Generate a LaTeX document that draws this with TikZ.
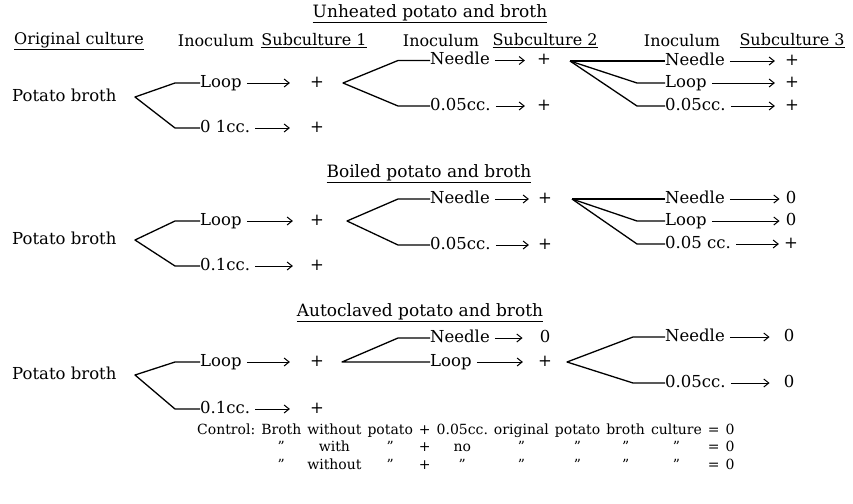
\documentclass[tikz,border=0pt]{standalone}
\usepackage{fontspec}
\setmainfont{DejaVu Serif}
\usetikzlibrary{arrows.meta}

\tikzset{
  lbl/.style={anchor=west, inner sep=0pt, text height=11pt, text depth=3pt, font=\fontsize{16.5}{18}\selectfont},
  res/.style={inner sep=0pt, text height=11pt, text depth=3pt, font=\fontsize{16.5}{18}\selectfont},
  hdr/.style={font=\fontsize{16}{18}\selectfont},
  ttl/.style={font=\fontsize{17}{19}\selectfont},
  branch/.style={line width=1.3pt, line join=round},
  arr/.style={line width=1pt, -{Straight Barb[length=5pt, width=8pt]}, shorten <=5pt, shorten >=#1},
  arr/.default=10pt
}

\begin{document}
\begin{tikzpicture}[x=1pt, y=-1pt]
  \useasboundingbox (0,0) rectangle (853,503);

  % Unheated potato and broth
  \node[ttl] (ttlA) at (430,14) {\underline{Unheated potato and broth}};
  \node[hdr] (hOrig) at (79,41) {\underline{Original culture}};
  \node[hdr] (hInoc1) at (216,41) {Inoculum};
  \node[hdr] (hSub1) at (314,41) {\underline{Subculture 1}};
  \node[hdr] (hInoc2) at (441,41) {Inoculum};
  \node[hdr] (hSub2) at (545,41) {\underline{Subculture 2}};
  \node[hdr] (hInoc3) at (682,41) {Inoculum};
  \node[hdr] (hSub3) at (792,41) {\underline{Subculture 3}};

  \node[lbl] (pbA) at (12,97) {Potato broth};
  \coordinate (vA1) at (135,97);
  \node[lbl] (loopA1) at (200,83) {Loop};
  \node[lbl] (ccA1) at (200,128) {0 1cc.};
  \node[res] (rloopA1) at (317,83) {+};
  \node[res] (rccA1) at (317,128) {+};
  \draw[branch] (loopA1.west) -- ++(-25,0) -- (vA1) -- ([xshift=-25pt]ccA1.west) -- (ccA1.west);
  \draw[arr=20pt] (loopA1) -- (rloopA1);
  \draw[arr=20pt] (ccA1) -- (rccA1);

  \coordinate (vA2) at (343,83);
  \node[lbl] (needleA2) at (430,60.5) {Needle};
  \node[lbl] (ccA2) at (430,106) {0.05cc.};
  \node[res] (rneedleA2) at (544,60.5) {+};
  \node[res] (rccA2) at (544,106) {+};
  \draw[branch] (needleA2.west) -- ++(-32,0) -- (vA2) -- ([xshift=-32pt]ccA2.west) -- (ccA2.west);
  \draw[arr=12pt] (needleA2) -- (rneedleA2);
  \draw[arr=12pt] (ccA2) -- (rccA2);

  \coordinate (vA3) at (570,61);
  \node[lbl] (needleA3) at (665,61) {Needle};
  \node[lbl] (loopA3) at (665,83) {Loop};
  \node[lbl] (ccA3) at (665,106) {0.05cc.};
  \node[res] (rneedleA3) at (792,61) {+};
  \node[res] (rloopA3) at (792,83) {+};
  \node[res] (rccA3) at (792,106) {+};
  \draw[branch] (vA3) -- (needleA3.west);
  \draw[branch] (vA3) -- ([xshift=-28pt]loopA3.west) -- (loopA3.west);
  \draw[branch] (vA3) -- ([xshift=-28pt]ccA3.west) -- (ccA3.west);
  \draw[arr=10pt] (needleA3) -- (rneedleA3);
  \draw[arr=10pt] (loopA3) -- (rloopA3);
  \draw[arr=10pt] (ccA3) -- (rccA3);

  % Boiled potato and broth
  \node[ttl] (ttlB) at (429,174) {\underline{Boiled potato and broth}};

  \node[lbl] (pbB) at (12,240) {Potato broth};
  \coordinate (vB1) at (135,240);
  \node[lbl] (loopB1) at (200,221) {Loop};
  \node[lbl] (ccB1) at (200,266) {0.1cc.};
  \node[res] (rloopB1) at (317,221) {+};
  \node[res] (rccB1) at (317,266) {+};
  \draw[branch] (loopB1.west) -- ++(-25,0) -- (vB1) -- ([xshift=-25pt]ccB1.west) -- (ccB1.west);
  \draw[arr=17pt] (loopB1) -- (rloopB1);
  \draw[arr=17pt] (ccB1) -- (rccB1);

  \coordinate (vB2) at (347,221);
  \node[lbl] (needleB2) at (430,199) {Needle};
  \node[lbl] (ccB2) at (430,245) {0.05cc.};
  \node[res] (rneedleB2) at (545,199) {+};
  \node[res] (rccB2) at (545,245) {+};
  \draw[branch] (needleB2.west) -- ++(-32,0) -- (vB2) -- ([xshift=-32pt]ccB2.west) -- (ccB2.west);
  \draw[arr=9pt] (needleB2) -- (rneedleB2);
  \draw[arr=9pt] (ccB2) -- (rccB2);

  \coordinate (vB3) at (572,199);
  \node[lbl] (needleB3) at (665,199) {Needle};
  \node[lbl] (loopB3) at (665,221) {Loop};
  \node[lbl] (ccB3) at (665,244) {0.05 cc.};
  \node[res] (rneedleB3) at (791,199) {0};
  \node[res] (rloopB3) at (791,221) {0};
  \node[res] (rccB3) at (791,244) {+};
  \draw[branch] (vB3) -- (needleB3.west);
  \draw[branch] (vB3) -- ([xshift=-28pt]loopB3.west) -- (loopB3.west);
  \draw[branch] (vB3) -- ([xshift=-28pt]ccB3.west) -- (ccB3.west);
  \draw[arr=6pt] (needleB3) -- (rneedleB3);
  \draw[arr=6pt] (loopB3) -- (rloopB3);
  \draw[arr=5pt] (ccB3) -- (rccB3);

  % Autoclaved potato and broth
  \node[ttl] (ttlC) at (420,313) {\underline{Autoclaved potato and broth}};

  \node[lbl] (pbC) at (12,375) {Potato broth};
  \coordinate (vC1) at (135,375);
  \node[lbl] (loopC1) at (200,362) {Loop};
  \node[lbl] (ccC1) at (200,409) {0.1cc.};
  \node[res] (rloopC1) at (317,362) {+};
  \node[res] (rccC1) at (317,409) {+};
  \draw[branch] (loopC1.west) -- ++(-25,0) -- (vC1) -- ([xshift=-25pt]ccC1.west) -- (ccC1.west);
  \draw[arr=20pt] (loopC1) -- (rloopC1);
  \draw[arr=20pt] (ccC1) -- (rccC1);

  \coordinate (vC2) at (342,362);
  \node[lbl] (needleC2) at (430,338) {Needle};
  \node[lbl] (loopC2) at (430,362) {Loop};
  \node[res] (rneedleC2) at (545,338) {0};
  \node[res] (rloopC2) at (545,362) {+};
  \draw[branch] (needleC2.west) -- ++(-32,0) -- (vC2) -- (loopC2.west);
  \draw[arr=17pt] (needleC2) -- (rneedleC2);
  \draw[arr=15pt] (loopC2) -- (rloopC2);

  \coordinate (vC3) at (567,362);
  \node[lbl] (needleC3) at (665,337) {Needle};
  \node[lbl] (ccC3) at (665,383) {0.05cc.};
  \node[res] (rneedleC3) at (789,337) {0};
  \node[res] (rccC3) at (789,383) {0};
  \draw[branch] (needleC3.west) -- ++(-32,0) -- (vC3) -- ([xshift=-32pt]ccC3.west) -- (ccC3.west);
  \draw[arr=14pt] (needleC3) -- (rneedleC3);
  \draw[arr=14pt] (ccC3) -- (rccC3);

  % Controls
  \node[anchor=west, inner sep=0pt, font=\fontsize{14}{17.5}\selectfont] (ctrl) at (197,448) {%
    \setlength{\tabcolsep}{3pt}%
    \begin{tabular}{@{}lccccccccccc@{}}
      Control: & Broth & without & potato & + & 0.05cc. & original & potato & broth & culture & = & 0\\
               & ” & with & ” & + & no & ” & ” & ” & ” & = & 0\\
               & ” & without & ” & + & ” & ” & ” & ” & ” & = & 0
    \end{tabular}};
\end{tikzpicture}
\end{document}
